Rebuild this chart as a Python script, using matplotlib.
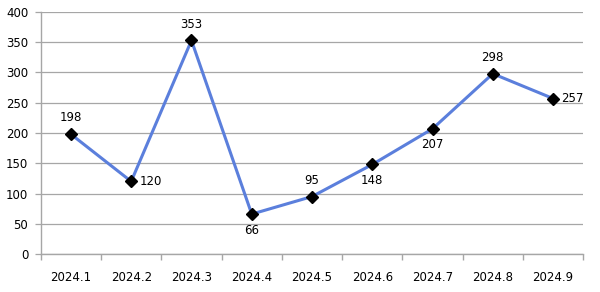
import matplotlib
matplotlib.use("Agg")
import matplotlib.pyplot as plt
import numpy as np

months = ["2024.1", "2024.2", "2024.3", "2024.4", "2024.5", "2024.6", "2024.7", "2024.8", "2024.9"]
counts = [198, 120, 353, 66, 95, 148, 207, 298, 257]
# where each value label sits relative to its point
label_pos = ["above", "right", "above", "below", "above", "below", "below", "above", "right"]

plt.rcParams['font.family'] = ['DejaVu Sans']

fig = plt.figure(figsize=(6, 2.92), dpi=100)
ax = fig.add_axes([0.068, 0.130, 0.904, 0.829])

x = np.arange(len(months))
ax.plot(x, counts, color='#5b7fdc', lw=2.2, marker='D', ms=6.5,
        mfc='black', mec='black', zorder=3)

for xi, v, pos in zip(x, counts, label_pos):
    if pos == "above":
        ax.annotate(str(v), (xi, v), xytext=(0, 7), textcoords='offset points',
                    ha='center', va='bottom', fontsize=8.5)
    elif pos == "below":
        ax.annotate(str(v), (xi, v), xytext=(0, -7), textcoords='offset points',
                    ha='center', va='top', fontsize=8.5)
    else:
        ax.annotate(str(v), (xi, v), xytext=(6, 0), textcoords='offset points',
                    ha='left', va='center', fontsize=8.5)

ax.set_xlim(-0.5, len(months) - 0.5)
ax.set_ylim(0, 400)
ax.set_yticks(range(0, 401, 50))
ax.yaxis.grid(True, color='#a6a6a6', lw=0.9)
ax.set_axisbelow(True)

ax.set_xticks(x)
ax.set_xticklabels(months)
ax.set_xticks(np.arange(-0.5, len(months)), minor=True)
ax.tick_params(axis='x', which='major', length=0, pad=12, labelsize=8.5)
ax.tick_params(axis='x', which='minor', length=4, color='#a6a6a6', width=1)
ax.tick_params(axis='y', length=4.5, color='#a6a6a6', width=0.9, labelsize=8.5, pad=4.5)

for s in ['top', 'right']:
    ax.spines[s].set_visible(False)
for s in ['left', 'bottom']:
    ax.spines[s].set_color('#a6a6a6')
    ax.spines[s].set_linewidth(1)

fig.savefig('out.png', dpi=100)
